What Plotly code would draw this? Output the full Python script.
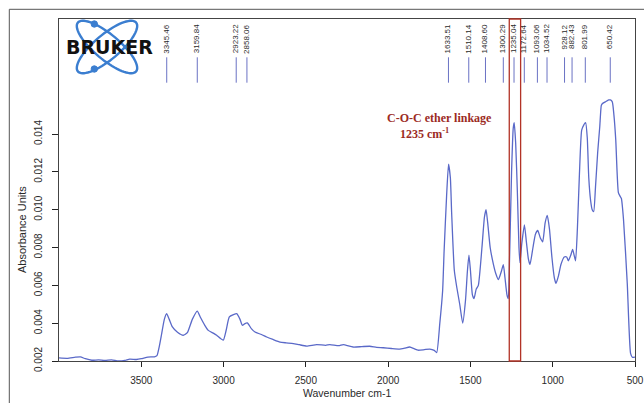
import math
import plotly.graph_objects as go

# ---------------- data ----------------
wavenumber = [4000, 3950, 3900, 3870, 3840, 3800, 3760, 3720, 3680, 3640, 3600, 3570, 3530, 3500,
              3460, 3420, 3405, 3390, 3376, 3360, 3346, 3330, 3311, 3280, 3245, 3220, 3190, 3160,
              3140, 3115, 3093, 3060, 3042, 3002, 2985, 2965, 2940, 2920, 2900, 2886, 2870, 2856,
              2830, 2809, 2770, 2738, 2700, 2657, 2620, 2576, 2540, 2495, 2434, 2380, 2354, 2300,
              2273, 2213, 2160, 2112, 2070, 2030, 1980, 1930, 1900, 1869, 1840, 1818, 1780, 1747,
              1720, 1705, 1686, 1669, 1660, 1645, 1633, 1622, 1614, 1598, 1583, 1565, 1547, 1530,
              1518, 1509, 1500, 1488, 1478, 1465, 1452, 1430, 1415, 1405, 1395, 1380, 1360, 1345,
              1330, 1310, 1300, 1290, 1278, 1270, 1262, 1250, 1240, 1234, 1225, 1215, 1205, 1199,
              1188, 1172, 1160, 1148, 1138, 1120, 1105, 1091, 1075, 1061, 1046, 1033, 1020, 1005,
              990, 980, 965, 950, 930, 915, 905, 890, 879, 870, 861, 850, 838, 824, 810, 800, 790,
              781, 770, 760, 751, 740, 727, 714, 705, 699, 680, 660, 650, 638, 628, 617, 601, 590,
              583, 570, 547, 527, 516, 500]
absorbance = [0.00216, 0.00214, 0.00220, 0.00222, 0.00212, 0.00204, 0.00206, 0.00203, 0.00206, 0.00200,
              0.00203, 0.00210, 0.00208, 0.00212, 0.00221, 0.00222, 0.00228, 0.00280, 0.00345, 0.00420,
              0.00450, 0.00420, 0.00380, 0.00352, 0.00336, 0.00350, 0.00420, 0.00464, 0.00430, 0.00390,
              0.00362, 0.00346, 0.00336, 0.00310, 0.00360, 0.00433, 0.00445, 0.00450, 0.00420, 0.00389,
              0.00398, 0.00401, 0.00370, 0.00353, 0.00340, 0.00327, 0.00314, 0.00300, 0.00296, 0.00292,
              0.00286, 0.00279, 0.00287, 0.00283, 0.00287, 0.00281, 0.00287, 0.00274, 0.00276, 0.00278,
              0.00272, 0.00270, 0.00266, 0.00263, 0.00268, 0.00274, 0.00264, 0.00257, 0.00260, 0.00263,
              0.00256, 0.00244, 0.00400, 0.00570, 0.00780, 0.01070, 0.01240, 0.01170, 0.00980, 0.00680,
              0.00590, 0.00500, 0.00400, 0.00520, 0.00680, 0.00760, 0.00680, 0.00550, 0.00530, 0.00580,
              0.00600, 0.00800, 0.00960, 0.01000, 0.00930, 0.00800, 0.00710, 0.00660, 0.00630, 0.00680,
              0.00710, 0.00640, 0.00550, 0.00530, 0.00750, 0.01200, 0.01430, 0.01460, 0.01350, 0.01100,
              0.00800, 0.00720, 0.00820, 0.00920, 0.00830, 0.00740, 0.00710, 0.00800, 0.00870, 0.00890,
              0.00850, 0.00830, 0.00930, 0.00970, 0.00900, 0.00750, 0.00640, 0.00610, 0.00650, 0.00710,
              0.00750, 0.00750, 0.00730, 0.00760, 0.00790, 0.00760, 0.00730, 0.00900, 0.01180, 0.01420,
              0.01450, 0.01460, 0.01380, 0.01170, 0.01050, 0.01000, 0.00990, 0.01120, 0.01300, 0.01440,
              0.01550, 0.01560, 0.01570, 0.01580, 0.01580, 0.01570, 0.01500, 0.01370, 0.01090, 0.01070,
              0.01060, 0.00950, 0.00610, 0.00240, 0.00220, 0.00220]

peak_positions = [3345.46, 3159.84, 2923.22, 2858.06, 1633.51, 1510.14, 1408.60, 1300.29,
                  1235.04, 1172.64, 1093.06, 1034.52, 928.12, 882.43, 801.99, 650.42]
peak_labels = ["3345.46", "3159.84", "2923.22", "2858.06", "1633.51", "1510.14", "1408.60", "1300.29",
               "1235.04", "1172.64", "1093.06", "1034.52", "928.12", "882.43", "801.99", "650.42"]

x_ticks = [3500, 3000, 2500, 2000, 1500, 1000, 500]
y_ticks = [0.002, 0.004, 0.006, 0.008, 0.010, 0.012, 0.014]
y_tick_labels = ["0.002", "0.004", "0.006", "0.008", "0.010", "0.012", "0.014"]

highlight_band = [1264, 1195]

# ---------------- layout helpers ----------------
W, H = 644, 403
L, R, T, B = 59, 9, 19, 42
PW, PH = W - L - R, H - T - B


def px(x):
    return (x - L) / PW


def py(y):
    return (H - B - y) / PH


LINE_BLUE = "#5a69c8"
TXT = "#2a2a2a"
RED = "#b23326"

fig = go.Figure()
fig.add_trace(go.Scatter(x=wavenumber, y=absorbance, mode="lines",
                         line=dict(color=LINE_BLUE, width=1.3, shape="spline", smoothing=0.5),
                         hoverinfo="skip", showlegend=False))

shapes = []
annotations = []

# peak marker lines and labels
for pos, lab in zip(peak_positions, peak_labels):
    shapes.append(dict(type="line", xref="x", yref="paper", x0=pos, x1=pos,
                       y0=py(82.7), y1=py(57.3), line=dict(color="#6a72c4", width=1)))
    annotations.append(dict(x=pos, xref="x", y=py(22.5), yref="paper", text=lab, textangle=-90,
                            showarrow=False, xanchor="center", yanchor="top",
                            font=dict(family="Liberation Sans, Arial", size=8, color=TXT)))

# highlight rectangle
shapes.append(dict(type="rect", xref="x", yref="paper", x0=highlight_band[0], x1=highlight_band[1],
                   y0=0, y1=1, line=dict(color=RED, width=1.3), layer="above"))

# outer frame
shapes.append(dict(type="line", xref="paper", yref="paper", x0=px(9.3), x1=px(644), y0=py(9.3), y1=py(9.3),
                   line=dict(color="#555555", width=1)))
shapes.append(dict(type="line", xref="paper", yref="paper", x0=px(9.3), x1=px(9.3), y0=py(9.3), y1=py(403),
                   line=dict(color="#555555", width=1)))

# Bruker logo orbits
cx, cy, a, b = 107.0, 47.0, 38.0, 12.5
for ang in (40, -40):
    th = math.radians(ang)
    pts = []
    for i in range(73):
        t = 2 * math.pi * i / 72
        xx = cx + a * math.cos(t) * math.cos(th) - b * math.sin(t) * math.sin(th)
        yy = cy + a * math.cos(t) * math.sin(th) + b * math.sin(t) * math.cos(th)
        pts.append((px(xx), py(yy)))
    path = "M " + " L ".join(f"{u:.5f},{v:.5f}" for u, v in pts) + " Z"
    shapes.append(dict(type="path", xref="paper", yref="paper", path=path,
                       line=dict(color="#3b7ed0", width=2.4), layer="above"))
for dx, dy in ((94.3, 24.0), (94.3, 69.0)):
    r = 3.2
    shapes.append(dict(type="circle", xref="paper", yref="paper", x0=px(dx - r), x1=px(dx + r),
                       y0=py(dy + r), y1=py(dy - r), fillcolor="#3b7ed0",
                       line=dict(color="#3b7ed0", width=1), layer="above"))

annotations.append(dict(x=px(109), y=py(47), xref="paper", yref="paper", text="<b>BRUKER</b>",
                        showarrow=False, xanchor="center", yanchor="middle",
                        font=dict(family="DejaVu Sans", size=19, color="#111111")))

# chemical annotation
annotations.append(dict(x=px(439.5), y=py(118), xref="paper", yref="paper", text="<b>C-O-C ether linkage</b>",
                        showarrow=False, xanchor="center", yanchor="middle",
                        font=dict(family="Liberation Serif, Times New Roman", size=12, color="#9c2b1f")))
annotations.append(dict(x=px(424), y=py(133), xref="paper", yref="paper", text="<b>1235 cm<sup>-1</sup></b>",
                        showarrow=False, xanchor="center", yanchor="middle",
                        font=dict(family="Liberation Serif, Times New Roman", size=12, color="#9c2b1f")))

# axis titles
annotations.append(dict(x=px(22), y=py(230), xref="paper", yref="paper", text="Absorbance Units",
                        textangle=-90, showarrow=False, xanchor="center", yanchor="middle",
                        font=dict(family="Liberation Sans, Arial", size=11, color=TXT)))
annotations.append(dict(x=px(347), y=py(393), xref="paper", yref="paper", text="Wavenumber cm-1",
                        showarrow=False, xanchor="center", yanchor="middle",
                        font=dict(family="Liberation Sans, Arial", size=10.5, color=TXT)))

fig.update_layout(
    width=W, height=H, margin=dict(l=L, r=R, t=T, b=B, autoexpand=False),
    paper_bgcolor="white", plot_bgcolor="white",
    shapes=shapes, annotations=annotations, showlegend=False,
    xaxis=dict(range=[4000, 500], tickvals=x_ticks, ticktext=[str(v) for v in x_ticks],
               ticks="outside", ticklen=5, tickcolor="#222", tickwidth=1, automargin=False,
               showline=True, linecolor="#444", linewidth=1.2, mirror=True,
               showgrid=False, zeroline=False, ticklabelstandoff=5,
               tickfont=dict(family="Liberation Sans, Arial", size=10, color=TXT)),
    yaxis=dict(range=[0.002, 0.02008], tickvals=y_ticks, ticktext=y_tick_labels, tickangle=-90,
               ticks="outside", ticklen=6, tickcolor="#222", tickwidth=1, automargin=False,
               showline=True, linecolor="#444", linewidth=1.2, mirror=True,
               showgrid=False, zeroline=False, ticklabelstandoff=6,
               tickfont=dict(family="Liberation Sans, Arial", size=10, color=TXT)),
)

fig.write_html("out.html", config={"displayModeBar": False},
               post_script="document.body.style.margin='0px';document.body.style.overflow='hidden';")
